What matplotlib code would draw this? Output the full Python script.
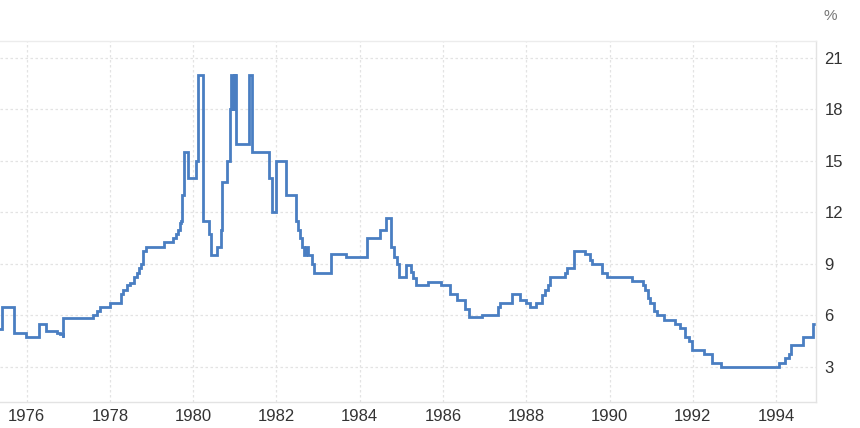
import matplotlib
matplotlib.use("Agg")
import matplotlib.pyplot as plt

# Step series: date (decimal year) at which each rate level starts, and the rate (%)
dates = [1975.36, 1975.41, 1975.69, 1975.98, 1976.29, 1976.46, 1976.73, 1976.80, 1976.87, 1976.88,
         1977.59, 1977.69, 1977.76, 1978.00, 1978.26, 1978.31, 1978.41, 1978.48, 1978.58, 1978.65,
         1978.70, 1978.74, 1978.79, 1978.87, 1979.30, 1979.51, 1979.59, 1979.63, 1979.68, 1979.71,
         1979.73, 1979.77, 1979.87, 1980.07, 1980.11, 1980.24, 1980.38, 1980.43, 1980.57, 1980.67,
         1980.70, 1980.81, 1980.88, 1980.91, 1980.935, 1980.95, 1980.965, 1980.98, 1981.00, 1981.01,
         1981.03, 1981.35, 1981.41, 1981.83, 1981.89, 1981.99, 1982.23, 1982.47, 1982.52, 1982.56,
         1982.61, 1982.65, 1982.71, 1982.76, 1982.85, 1982.91, 1983.31, 1983.66, 1984.17, 1984.48,
         1984.62, 1984.74, 1984.82, 1984.89, 1984.95, 1985.10, 1985.23, 1985.28, 1985.36, 1985.63,
         1985.95, 1986.17, 1986.34, 1986.53, 1986.62, 1986.93, 1987.33, 1987.37, 1987.66, 1987.84,
         1987.99, 1988.09, 1988.23, 1988.37, 1988.45, 1988.52, 1988.57, 1988.93, 1988.97, 1989.14,
         1989.42, 1989.52, 1989.58, 1989.82, 1989.95, 1990.54, 1990.81, 1990.85, 1990.93, 1990.97,
         1991.07, 1991.14, 1991.31, 1991.57, 1991.69, 1991.81, 1991.90, 1991.97, 1992.26, 1992.47,
         1992.67, 1994.08, 1994.22, 1994.30, 1994.37, 1994.64, 1994.88, 1994.91]
rates = [5.2, 6.5, 5.0, 4.75, 5.5, 5.1, 5.0, 4.9, 4.75, 5.85,
         6.0, 6.25, 6.5, 6.75, 7.25, 7.5, 7.75, 7.875, 8.25, 8.5,
         8.75, 9.0, 9.75, 10.0, 10.25, 10.5, 10.75, 11.0, 11.4, 11.5,
         13.0, 15.5, 14.0, 15.0, 20.0, 11.5, 10.75, 9.5, 10.0, 11.0,
         13.75, 15.0, 18.0, 20.0, 18.0, 20.0, 18.0, 20.0, 18.0, 20.0,
         16.0, 20.0, 15.5, 14.0, 12.0, 15.0, 13.0, 11.5, 11.0, 10.5,
         10.0, 9.5, 10.0, 9.5, 9.0, 8.5, 9.6, 9.4, 10.5, 11.0,
         11.7, 10.0, 9.4, 9.0, 8.25, 8.95, 8.55, 8.2, 7.75, 7.95,
         7.75, 7.25, 6.9, 6.4, 5.9, 6.0, 6.5, 6.75, 7.25, 6.9,
         6.7, 6.5, 6.75, 7.2, 7.5, 7.75, 8.25, 8.5, 8.75, 9.75,
         9.6, 9.25, 9.0, 8.5, 8.25, 8.0, 7.75, 7.5, 7.0, 6.75,
         6.25, 6.0, 5.75, 5.5, 5.25, 4.75, 4.5, 4.0, 3.75, 3.25,
         3.0, 3.25, 3.5, 3.75, 4.25, 4.75, 5.5, 5.5]

y_ticks = [3, 6, 9, 12, 15, 18, 21]
x_ticks = [1976, 1978, 1980, 1982, 1984, 1986, 1988, 1990, 1992, 1994]

plt.rcParams['font.family'] = ['Liberation Sans', 'DejaVu Sans']

fig = plt.figure(figsize=(8.6, 4.28), dpi=100)
W, H = 860, 428
left, right, top, bottom = 0, 816, 41, 402
ax = fig.add_axes([left / W, 1 - bottom / H, (right - left) / W, (bottom - top) / H])

ax.step(dates, rates, where='post', color='#4a7ec2', linewidth=2.0, solid_joinstyle='miter')

ax.set_xlim(1975.36, 1994.96)
ax.set_ylim(0.96, 21.98)

ax.set_yticks(y_ticks)
ax.set_xticks(x_ticks)
ax.set_xticklabels([str(t) for t in x_ticks])
ax.yaxis.tick_right()
ax.tick_params(axis='y', length=0, pad=6, labelsize=12, labelcolor='#333333')
ax.tick_params(axis='x', length=0, pad=5, labelsize=12, labelcolor='#333333')

ax.grid(True, color='#e3e3e3', linestyle=(0, (2, 2)), linewidth=0.9)
ax.set_axisbelow(True)

ax.spines['left'].set_visible(False)
ax.spines['top'].set_color('#ececec')
ax.spines['right'].set_color('#e3e3e3')
ax.spines['bottom'].set_color('#e3e3e3')
for s in ['top', 'right', 'bottom']:
    ax.spines[s].set_linewidth(1.0)

fig.text(830 / W, 1 - 16 / H, '%', ha='center', va='center', fontsize=11, color='#777777')

fig.savefig('out.png', dpi=100)
